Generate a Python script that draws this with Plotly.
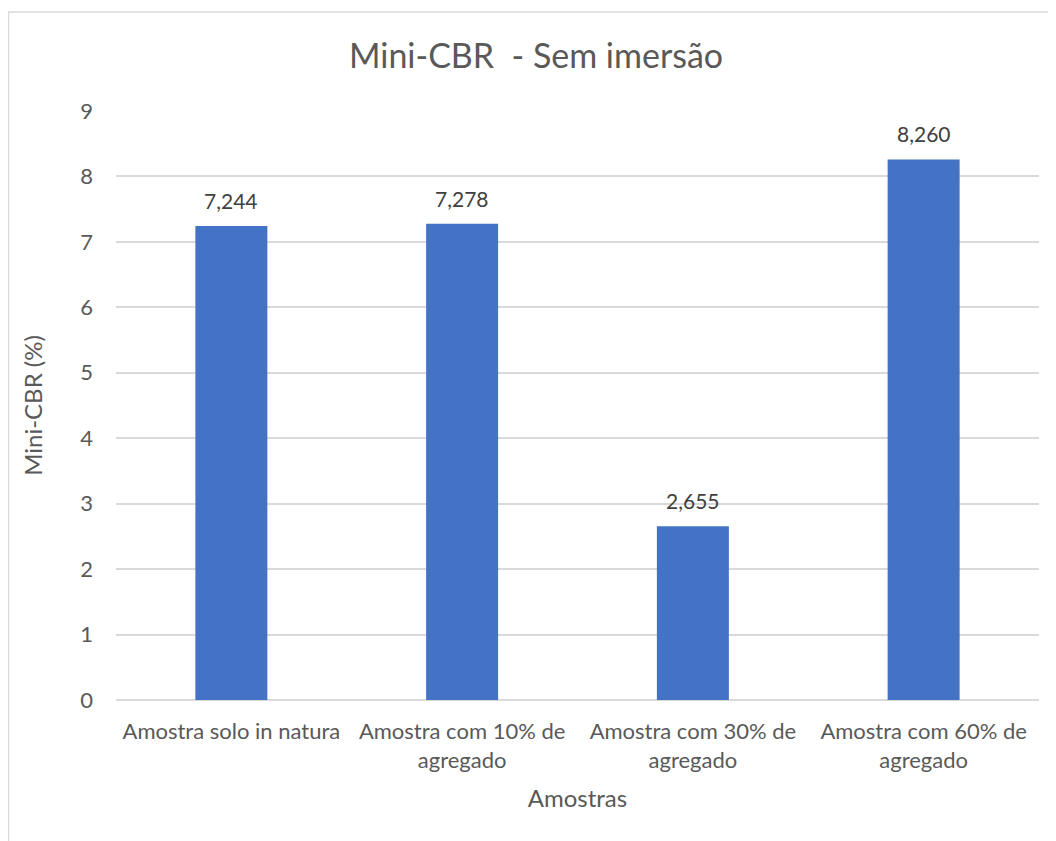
import plotly.graph_objects as go

# Dados do gráfico
amostras = ["Amostra solo in natura", "Amostra com 10% de<br>agregado",
            "Amostra com 30% de<br>agregado", "Amostra com 60% de<br>agregado"]
mini_cbr = [7.244, 7.278, 2.655, 8.260]

cor_barra = "#4472C4"
cor_texto = "#595959"
fonte = "Lato, Open Sans, sans-serif"

fig = go.Figure()

fig.add_trace(go.Bar(
    x=amostras,
    y=mini_cbr,
    marker=dict(color=cor_barra, line=dict(width=0)),
    showlegend=False,
))

# Rótulos de dados acima das barras
for a, v in zip(amostras, mini_cbr):
    fig.add_annotation(
        x=a, y=v, text=f"{v:.3f}".replace(".", ","),
        showarrow=False, yanchor="bottom", yshift=11,
        font=dict(size=21, color="#404040", family=fonte),
    )

# Borda do gráfico (estilo Excel)
fig.add_shape(type="rect", xref="paper", yref="paper",
              x0=-0.1165, x1=1.1, y0=-0.4, y1=1.168,
              line=dict(color="#d9d9d9", width=1.5), layer="below")

fig.update_layout(
    width=1056, height=841,
    paper_bgcolor="white", plot_bgcolor="white",
    margin=dict(l=108, r=25, t=103, b=149),
    bargap=0.688,
    separators=",.",
    font=dict(family=fonte, color=cor_texto, size=22),
    title=dict(text="Mini-CBR  - Sem imersão", x=0.5, xanchor="center",
               y=0.943, yanchor="middle",
               font=dict(size=34, color=cor_texto, family=fonte)),
    xaxis=dict(
        title=dict(text="Amostras", font=dict(size=24, color=cor_texto), standoff=18),
        tickfont=dict(size=22, color=cor_texto),
        showline=False, showgrid=False, ticks="",
        automargin=False, ticklabelstandoff=16,
    ),
    yaxis=dict(
        title=dict(text="Mini-CBR (%)", font=dict(size=24, color=cor_texto), standoff=30),
        range=[0, 9], dtick=1, tick0=0,
        tickfont=dict(size=22, color=cor_texto),
        gridcolor="#d9d9d9", gridwidth=1.5,
        zeroline=True, zerolinecolor="#d9d9d9", zerolinewidth=1.5,
        showline=False, ticks="", ticklabelstandoff=22,
        automargin=False,
    ),
)

fig.write_html("out.html")
